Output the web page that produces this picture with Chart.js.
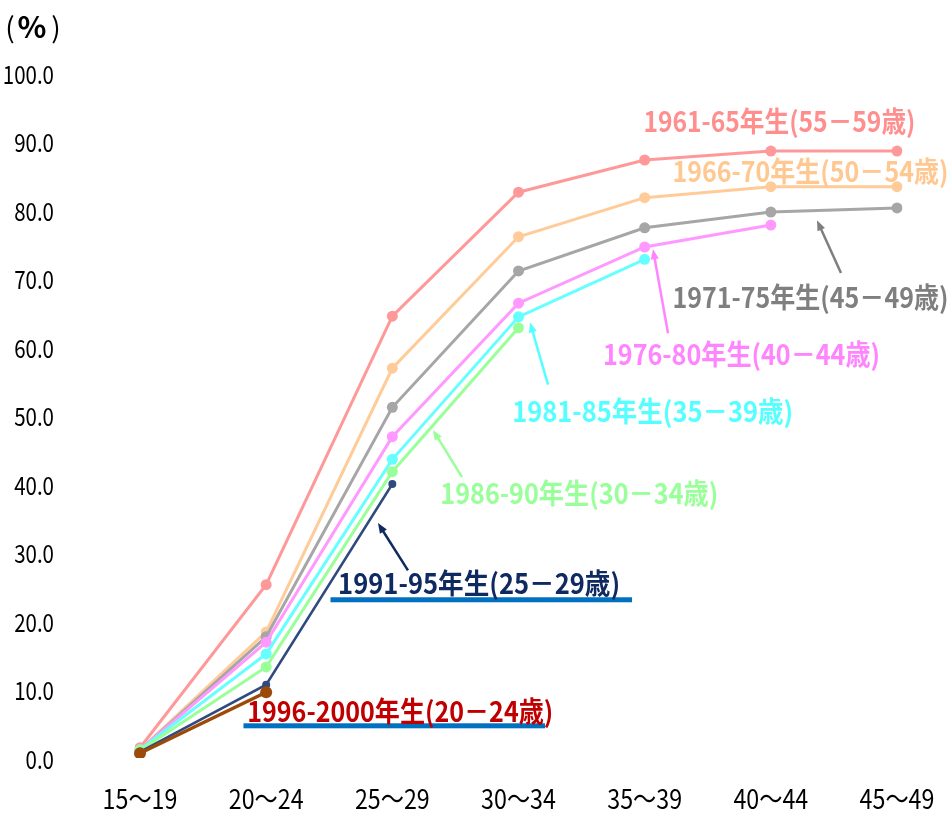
<!DOCTYPE html>
<html>
<head>
<meta charset="utf-8">
<script src="https://cdn.jsdelivr.net/npm/chart.js@4"></script>
<style>
  html, body { margin: 0; padding: 0; background: #fff; overflow: hidden; }
  #wrap { width: 951px; height: 821px; }
</style>
</head>
<body>
<div id="wrap"><canvas id="chart"></canvas></div>
<script>
// age groups on the x axis
const categories = ["15～19", "20～24", "25～29", "30～34", "35～39", "40～44", "45～49"];

// share (%) per birth cohort
const b1961 = [1.5, 25.3, 64.5, 82.6, 87.3, 88.6, 88.6];
const b1966 = [1.2, 18.4, 56.9, 76.1, 81.8, 83.4, 83.4];
const b1971 = [1.1, 17.7, 51.2, 71.1, 77.4, 79.7, 80.3];
const b1976 = [1.2, 16.9, 46.9, 66.4, 74.6, 77.8, null];
const b1981 = [1.2, 15.2, 43.6, 64.4, 72.8, null, null];
const b1986 = [1.1, 13.3, 41.8, 62.8, null, null, null];
const b1991 = [0.9, 10.7, 40.0, null, null, null, null];
const b1996 = [0.7, 9.6, null, null, null, null, null];

const yMin = 0;
const yMax = 100;
const yStep = 10;

const cohortNames = [
  "1961-65年生(55－59歳)",
  "1966-70年生(50－54歳)",
  "1971-75年生(45－49歳)",
  "1976-80年生(40－44歳)",
  "1981-85年生(35－39歳)",
  "1986-90年生(30－34歳)",
  "1991-95年生(25－29歳)",
  "1996-2000年生(20－24歳)",
];

const FONT = "'Noto Sans CJK JP', sans-serif";

// series style, drawn bottom to top
const lineStyles = [
  { data: b1961, color: "#FF9999", width: 3, radius: 5.5 },
  { data: b1966, color: "#FFCC99", width: 3, radius: 5.5 },
  { data: b1971, color: "#A6A6A6", width: 3, radius: 5.5 },
  { data: b1976, color: "#FF99FF", width: 3, radius: 5.5 },
  { data: b1981, color: "#66FFFF", width: 3, radius: 5.5 },
  { data: b1986, color: "#99FF99", width: 3, radius: 5.5 },
  { data: b1991, color: "#2F4A7F", width: 2.5, radius: 4 },
  { data: b1996, color: "#9C4A0A", width: 3.5, radius: 6 },
];

// labels: anchor in data space (x = category index, y = value), left edge + vertical centre
const notes = [
  { text: cohortNames[0], color: "#FF8F8F", x: 3.99, y: 93.1, w: 272 },
  { text: cohortNames[1], color: "#FFC891", x: 4.22, y: 85.8, w: 276 },
  { text: cohortNames[2], color: "#7F7F7F", x: 4.22, y: 67.4, w: 276,
    arrow: [5.556, 70.8, 5.366, 78.5] },
  { text: cohortNames[3], color: "#FF85FF", x: 3.67, y: 59.1, w: 277,
    arrow: [4.185, 62.0, 4.066, 74.3] },
  { text: cohortNames[4], color: "#55FFFF", x: 2.95, y: 50.8, w: 281,
    arrow: [3.234, 54.5, 3.091, 63.6] },
  { text: cohortNames[5], color: "#99FF99", x: 2.38, y: 38.8, w: 278,
    arrow: [2.552, 41.0, 2.322, 47.9] },
  { text: cohortNames[6], color: "#0F2A60", x: 1.57, y: 25.7, w: 282,
    arrow: [2.124, 27.4, 1.886, 34.3], under: [1.51, 3.90, 23.1] },
  { text: cohortNames[7], color: "#C00000", x: 0.85, y: 7.0, w: 306,
    under: [0.82, 3.21, 4.7] },
];

// draw text squeezed horizontally (narrow gothic look)
const squeezeText = (ctx, text, x, y, sx, align) => {
  const w = ctx.measureText(text).width * sx;
  let left = x;
  if (align === "right") left = x - w;
  if (align === "center") left = x - w / 2;
  ctx.save();
  ctx.translate(left, y);
  ctx.scale(sx, 1);
  ctx.textAlign = "left";
  ctx.fillText(text, 0, 0);
  ctx.restore();
};

const drawArrow = (ctx, x1, y1, x2, y2, color) => {
  const ang = Math.atan2(y2 - y1, x2 - x1);
  const head = 11;
  ctx.strokeStyle = color;
  ctx.fillStyle = color;
  ctx.lineWidth = 2.5;
  ctx.beginPath();
  ctx.moveTo(x1, y1);
  ctx.lineTo(x2 - Math.cos(ang) * head * 0.8, y2 - Math.sin(ang) * head * 0.8);
  ctx.stroke();
  ctx.beginPath();
  ctx.moveTo(x2, y2);
  ctx.lineTo(x2 - head * Math.cos(ang - 0.38), y2 - head * Math.sin(ang - 0.38));
  ctx.lineTo(x2 - head * Math.cos(ang + 0.38), y2 - head * Math.sin(ang + 0.38));
  ctx.closePath();
  ctx.fill();
};

// axis labels drawn from the hidden scales
const axisPlugin = {
  id: "axisText",
  afterDraw(chart) {
    const ctx = chart.ctx;
    const xs = chart.scales.x;
    const ys = chart.scales.y;
    ctx.save();
    ctx.fillStyle = "#000";
    ctx.textBaseline = "middle";
    ctx.font = "25px " + FONT;
    ys.ticks.forEach((t, i) => {
      squeezeText(ctx, t.value.toFixed(1), 54, ys.getPixelForTick(i) + 1, 0.82, "right");
    });
    ctx.font = "27px " + FONT;
    xs.ticks.forEach((t, i) => {
      squeezeText(ctx, categories[t.value], xs.getPixelForTick(i), 799, 0.86, "center");
    });
    // unit "(%)"
    ctx.font = "28px " + FONT;
    ctx.textAlign = "center";
    ctx.fillText("(", 10, 27);
    ctx.fillText(")", 56, 27);
    ctx.font = "bold 30px " + FONT;
    ctx.fillText("%", 32, 27);
    ctx.restore();
  },
};

const notesPlugin = {
  id: "notes",
  afterDatasetsDraw(chart) {
    const ctx = chart.ctx;
    const xs = chart.scales.x;
    const ys = chart.scales.y;
    // index to pixel, allowing fractional positions
    const px = (i) => xs.getPixelForValue(0) + i * (xs.getPixelForValue(1) - xs.getPixelForValue(0));
    const py = (v) => ys.getPixelForValue(v);
    ctx.save();
    notes.forEach((n) => {
      if (n.under) {
        ctx.fillStyle = "#0070C0";
        ctx.fillRect(px(n.under[0]), py(n.under[2]) - 2.5, px(n.under[1]) - px(n.under[0]), 5);
      }
      ctx.font = "bold 28px " + FONT;
      ctx.textBaseline = "middle";
      const mw = ctx.measureText(n.text).width;
      ctx.fillStyle = n.color;
      squeezeText(ctx, n.text, px(n.x), py(n.y) + 1, n.w / mw, "left");
      if (n.arrow) {
        const a = n.arrow;
        drawArrow(ctx, px(a[0]), py(a[1]), px(a[2]), py(a[3]), n.color);
      }
    });
    ctx.restore();
  },
};

const ctx = document.getElementById("chart");
new Chart(ctx, {
  type: "line",
  data: {
    labels: categories,
    datasets: lineStyles.map((s, i) => ({
      label: cohortNames[i],
      data: s.data,
      borderColor: s.color,
      backgroundColor: s.color,
      pointBackgroundColor: s.color,
      pointBorderColor: s.color,
      borderWidth: s.width,
      pointRadius: s.radius,
      pointBorderWidth: 0,
      tension: 0,
      spanGaps: false,
      order: lineStyles.length - i,
    })),
  },
  options: {
    responsive: true,
    maintainAspectRatio: false,
    animation: false,
    layout: { padding: { left: 140, right: 54, top: 73, bottom: 63 } },
    plugins: {
      legend: { display: false },
      tooltip: { enabled: false },
    },
    scales: {
      x: {
        display: false,
        offset: false,
      },
      y: {
        display: false,
        min: yMin,
        max: yMax,
        ticks: { stepSize: yStep },
      },
    },
  },
  plugins: [notesPlugin, axisPlugin],
});
</script>
</body>
</html>
